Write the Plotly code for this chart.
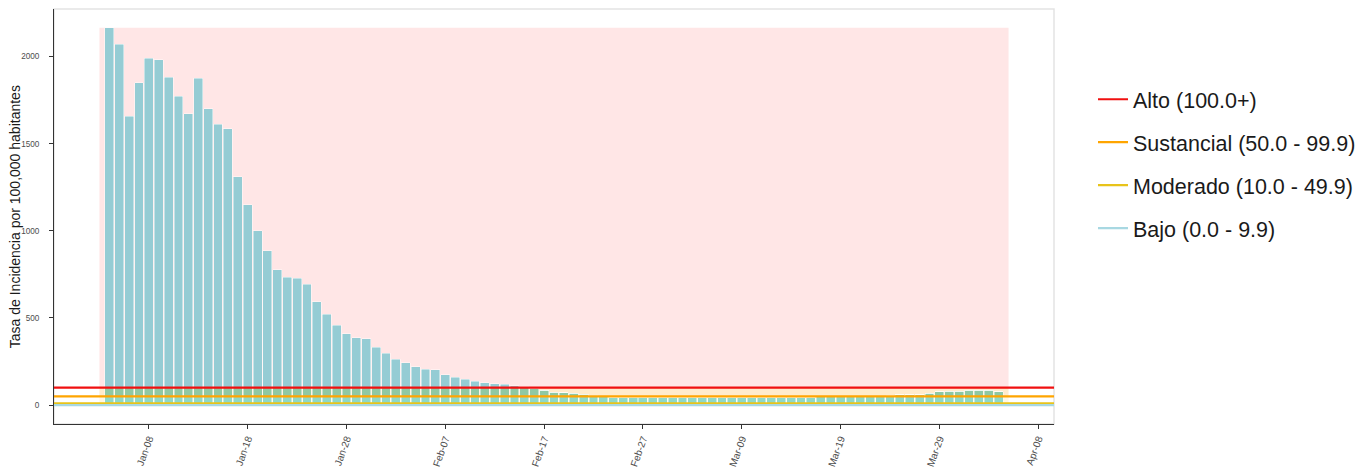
import numpy as np
import pandas as pd
import plotly.graph_objects as go

# ---------------- data ----------------
start_date = "2022-01-04"
incidence = [
    2164, 2071, 1656, 1849, 1991, 1981, 1882, 1773, 1671, 1876,
    1700, 1612, 1585, 1309, 1150, 1001, 885, 776, 734, 728,
    694, 592, 520, 459, 409, 386, 380, 331, 298, 262,
    243, 220, 206, 204, 174, 161, 149, 138, 128, 122,
    119, 111, 105, 96, 86, 74, 71, 69, 63, 57,
    47, 46, 46, 45, 45, 45, 46, 45, 44, 44,
    45, 44, 44, 45, 45, 44, 44, 45, 45, 46,
    46, 46, 47, 47, 47, 48, 48, 49, 50, 55,
    60, 61, 61, 69, 76, 80, 80, 86, 86, 86,
    76,
]
level_names = ["Alto (100.0+)", "Sustancial (50.0 - 99.9)",
               "Moderado (10.0 - 49.9)", "Bajo (0.0 - 9.9)"]
level_thresholds = [100, 50, 10, 0]
level_line_colors = ["#F01010", "#FFA500", "#E8C31A", "#A8D8E2"]
tick_dates = ["2022-01-08", "2022-01-18", "2022-01-28", "2022-02-07",
              "2022-02-17", "2022-02-27", "2022-03-09", "2022-03-19",
              "2022-03-29", "2022-04-08"]
y_ticks = [0, 500, 1000, 1500, 2000]
y_title = "Tasa de Incidencia por 100,000 habitantes"

# ---------------- derived ----------------
dates = pd.date_range(start_date, periods=len(incidence), freq="D")
v = np.array(incidence, dtype=float)
seg_bajo = np.minimum(v, 10)
seg_mod = np.clip(v - 10, 0, 40)
seg_sus = np.clip(v - 50, 0, 50)
seg_alto = np.clip(v - 100, 0, None)

day = pd.Timedelta(days=1)
rect_x0 = dates[0] - day
rect_x1 = dates[-1] + day
span = rect_x1 - rect_x0
x_lo = rect_x0 - 0.05 * span
x_hi = rect_x1 + 0.05 * span
vmax = v.max()
y_lo = -0.05 * vmax
y_hi = vmax * 1.05

fig = go.Figure()

seg_colors = ["#96D3DA", "#8FD9C6", "#8FC8A2", "#95CCD4"]
for seg, col in zip([seg_bajo, seg_mod, seg_sus, seg_alto], seg_colors):
    fig.add_trace(go.Bar(
        x=dates, y=seg, width=0.9 * 86400000,
        marker=dict(color=col, line=dict(color="rgba(255,255,255,0.75)", width=0.6)),
        showlegend=False, hoverinfo="skip",
    ))

for i, (name, thr, col) in enumerate(zip(level_names, level_thresholds, level_line_colors)):
    fig.add_trace(go.Scatter(
        x=[x_lo, x_hi], y=[thr, thr], mode="lines",
        line=dict(color=col, width=2.2), name=name,
        legendgroup=f"g{i}", hoverinfo="skip",
    ))

# background risk bands
bands = [(100, vmax, "#FFE6E6"), (50, 100, "#FFEBCB"),
         (10, 50, "#FFF8E2"), (0, 10, "#E4F4F7")]
for y0, y1, col in bands:
    fig.add_shape(type="rect", xref="x", yref="y",
                  x0=rect_x0, x1=rect_x1, y0=y0, y1=y1,
                  fillcolor=col, line=dict(width=0), layer="below")

# light panel border
fig.add_shape(type="rect", xref="paper", yref="paper", x0=0, x1=1, y0=0, y1=1,
              line=dict(color="#E3E3E3", width=1.5), fillcolor="rgba(0,0,0,0)",
              layer="below")

# y-axis title as a rotated annotation
fig.add_annotation(text=y_title, xref="paper", yref="paper",
                   x=-0.0393, y=0.5, xanchor="center", yanchor="middle",
                   textangle=-90, showarrow=False, borderpad=0,
                   font=dict(size=14, color="#1A1A1A"))

# page body has an 8px margin, so the figure is sized to fit the window
fig.update_layout(
    width=1364, height=460,
    margin=dict(l=46, r=318, t=1, b=44, autoexpand=False),
    paper_bgcolor="white", plot_bgcolor="white",
    barmode="stack",
    font=dict(family="Liberation Sans, Arial, sans-serif", color="#222222"),
    legend=dict(
        x=1.039, y=0.627, xanchor="left", yanchor="middle",
        font=dict(size=21.5, color="#1A1A1A"),
        tracegroupgap=12, bgcolor="rgba(0,0,0,0)",
    ),
    xaxis=dict(
        range=[x_lo, x_hi], type="date", automargin=False,
        tickvals=pd.to_datetime(tick_dates), tickformat="%b-%d",
        tickangle=-70, tickfont=dict(size=10, color="#4D4D4D"),
        ticks="outside", ticklen=4, tickcolor="#333333",
        showgrid=False, zeroline=False,
        showline=True, linecolor="#333333", linewidth=1,
    ),
    yaxis=dict(
        range=[y_lo, y_hi], tickvals=y_ticks, automargin=False,
        tickfont=dict(size=8.2, color="#4D4D4D"),
        ticks="outside", ticklen=4, tickcolor="#333333",
        ticklabelstandoff=8,
        showgrid=False, zeroline=False,
        showline=True, linecolor="#333333", linewidth=1,
    ),
)

fig.write_html("out.html")
